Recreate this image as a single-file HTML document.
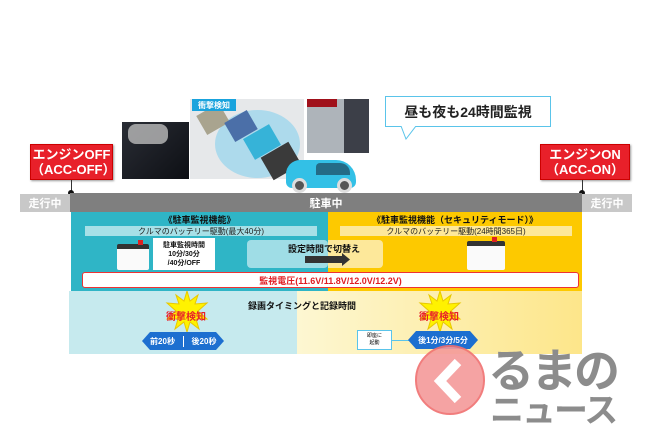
<!DOCTYPE html>
<html><head><meta charset="utf-8"><style>
*{margin:0;padding:0;box-sizing:border-box}
body{width:650px;height:433px;background:#fff;position:relative;overflow:hidden;font-family:"Liberation Sans","Noto Sans CJK JP",sans-serif}
.a{position:absolute}
.c{display:flex;align-items:center;justify-content:center;text-align:center}
.red{background:#e8202a;color:#fff;font-weight:bold;font-size:13px;line-height:15px;border:1px solid #c00;box-shadow:1px 1px 2px #999}
.hexb{background:#1d6fd0;color:#fff;font-size:8px;font-weight:bold;height:18px;clip-path:polygon(8px 0,calc(100% - 8px) 0,100% 50%,calc(100% - 8px) 100%,8px 100%,0 50%)}
</style></head><body>
<div class="a" style="left:122px;top:122px;width:67px;height:57px;background:linear-gradient(135deg,#2a2d35,#0d0f14);"></div>
<div class="a" style="left:128px;top:124px;width:40px;height:20px;border-radius:8px;background:#bbb;opacity:.8"></div>
<div class="a" style="left:190px;top:99px;width:114px;height:80px;background:#e6e8ea"></div>
<div class="a" style="left:215px;top:110px;width:85px;height:68px;border-radius:50%;background:#9fd6ec;opacity:.8"></div>
<div class="a" style="left:200px;top:108px;width:26px;height:22px;background:#a9a48f;transform:rotate(-30deg)"></div>
<div class="a" style="left:228px;top:115px;width:26px;height:22px;background:#4b6fa8;transform:rotate(-30deg)"></div>
<div class="a" style="left:247px;top:130px;width:30px;height:24px;background:#36b3d8;transform:rotate(-30deg)"></div>
<div class="a" style="left:265px;top:148px;width:32px;height:26px;background:#3a3a3a;transform:rotate(-30deg)"></div>
<div class="a c" style="left:192px;top:99px;width:44px;height:12px;background:#19a3dd;color:#fff;font-size:8px;font-weight:bold">衝撃検知</div>
<div class="a" style="left:307px;top:99px;width:62px;height:54px;background:linear-gradient(90deg,#aeb4ba 60%,#3c3f48 60%)"></div>
<div class="a" style="left:307px;top:99px;width:30px;height:8px;background:#a0101a"></div>
<div class="a" style="left:286px;top:160px;width:70px;height:28px;background:#33c0e6;border-radius:14px 20px 6px 6px"></div>
<div class="a" style="left:316px;top:163px;width:34px;height:12px;background:#246b86;border-radius:4px 10px 0 0"></div>
<div class="a" style="left:292px;top:178px;width:15px;height:15px;border-radius:50%;background:#555;border:3px solid #ddd"></div>
<div class="a" style="left:337px;top:178px;width:15px;height:15px;border-radius:50%;background:#555;border:3px solid #ddd"></div>
<div class="a c" style="left:385px;top:96px;width:166px;height:31px;border:1px solid #5ac4ea;background:#fff;font-size:14px;font-weight:bold;color:#222">昼も夜も24時間監視</div>
<svg class="a" style="left:400px;top:126px" width="20" height="14"><path d="M1 0 L6 13 L16 0" fill="#fff" stroke="#5ac4ea"/></svg>
<div class="a c red" style="left:30px;top:144px;width:83px;height:36px">エンジンOFF<br>（ACC-OFF）</div>
<div class="a c red" style="left:540px;top:144px;width:90px;height:36px">エンジンON<br>（ACC-ON）</div>
<div class="a" style="left:71px;top:180px;width:1px;height:14px;background:#333"></div>
<div class="a" style="left:582px;top:180px;width:1px;height:14px;background:#333"></div>
<div class="a" style="left:68px;top:190px;width:6px;height:6px;border-radius:50%;background:#111"></div>
<div class="a" style="left:579px;top:190px;width:6px;height:6px;border-radius:50%;background:#111"></div>
<div class="a c" style="left:20px;top:194px;width:50px;height:18px;background:#c8c8c8;color:#fff;font-size:11px;font-weight:bold">走行中</div>
<div class="a c" style="left:70px;top:193px;width:512px;height:19px;background:#7f7f7f;color:#fff;font-size:11px;font-weight:bold">駐車中</div>
<div class="a c" style="left:582px;top:194px;width:50px;height:18px;background:#c8c8c8;color:#fff;font-size:11px;font-weight:bold">走行中</div>
<div class="a" style="left:71px;top:212px;width:257px;height:79px;background:#2fb5c6"></div>
<div class="a" style="left:328px;top:212px;width:254px;height:79px;background:#fdc900"></div>
<div class="a c" style="left:71px;top:214px;width:257px;height:11px;font-size:9px;font-weight:bold;color:#111">《駐車監視機能》</div>
<div class="a c" style="left:328px;top:214px;width:254px;height:11px;font-size:9px;font-weight:bold;color:#111">《駐車監視機能（セキュリティモード）》</div>
<div class="a c" style="left:85px;top:226px;width:232px;height:10px;background:#a7e0e7;font-size:8px;color:#222">クルマのバッテリー駆動(最大40分)</div>
<div class="a c" style="left:340px;top:226px;width:232px;height:10px;background:#fde89a;font-size:8px;color:#222">クルマのバッテリー駆動(24時間365日)</div>
<div class="a" style="left:247px;top:240px;width:81px;height:28px;background:#9fdde6;border-radius:4px"></div>
<div class="a" style="left:328px;top:240px;width:55px;height:28px;background:#fde89a;border-radius:0 4px 4px 0"></div>
<div class="a" style="left:288px;top:242px;font-size:9px;font-weight:bold;color:#111">設定時間で切替え</div>
<div class="a" style="left:305px;top:256px;width:38px;height:7px;background:#333"></div>
<svg class="a" style="left:342px;top:253px" width="8" height="13"><path d="M0 0 L8 6.5 L0 13Z" fill="#333"/></svg>
<div class="a" style="left:117px;top:244px;width:32px;height:26px;background:#fafafa;border-top:5px solid #333;border-radius:2px"></div>
<div class="a" style="left:138px;top:240px;width:5px;height:5px;background:#d22"></div>
<div class="a" style="left:467px;top:241px;width:38px;height:29px;background:#fafafa;border-top:5px solid #333;border-radius:2px"></div>
<div class="a" style="left:492px;top:237px;width:5px;height:5px;background:#d22"></div>
<div class="a c" style="left:153px;top:238px;width:62px;height:32px;background:#fff;font-size:7px;line-height:9px;color:#111;font-weight:bold">駐車監視時間<br>10分/30分<br>/40分/OFF</div>
<div class="a c" style="left:82px;top:272px;width:497px;height:16px;background:#fff;border:1px solid #e33;border-radius:3px;color:#e01c22;font-size:9px;font-weight:bold">監視電圧(11.6V/11.8V/12.0V/12.2V)</div>
<div class="a" style="left:69px;top:291px;width:228px;height:63px;background:#c6eaee"></div>
<div class="a" style="left:297px;top:291px;width:285px;height:63px;background:linear-gradient(90deg,#fdf7d2,#fde68a)"></div>
<div class="a" style="left:248px;top:299px;font-size:9px;font-weight:bold;color:#111">録画タイミングと記録時間</div>
<svg class="a" style="left:165px;top:291px" width="44" height="42"><polygon points="22,0 25,10 33,4 30,13 42,12 33,20 42,28 31,28 34,38 25,31 22,41 19,31 10,38 13,28 2,28 11,20 2,12 14,13 11,4 19,10" fill="#fff200" stroke="#e8c800"/></svg>
<svg class="a" style="left:418px;top:291px" width="44" height="42"><polygon points="22,0 25,10 33,4 30,13 42,12 33,20 42,28 31,28 34,38 25,31 22,41 19,31 10,38 13,28 2,28 11,20 2,12 14,13 11,4 19,10" fill="#fff200" stroke="#e8c800"/></svg>
<div class="a" style="left:166px;top:308px;font-size:10px;font-weight:bold;color:#e8202a">衝撃検知</div>
<div class="a" style="left:419px;top:308px;font-size:10px;font-weight:bold;color:#e8202a">衝撃検知</div>
<div class="a c hexb" style="left:142px;top:332px;width:82px"><span style="width:41px">前20秒</span><span style="width:41px;border-left:1px solid #fff">後20秒</span></div>
<div class="a c" style="left:357px;top:330px;width:35px;height:20px;border:1px solid #5ac4ea;background:#fff;font-size:5px;line-height:7px">即座に<br>起動</div>
<div class="a" style="left:392px;top:340px;width:25px;height:1px;background:#5ac4ea"></div>
<div class="a c hexb" style="left:408px;top:331px;width:70px">後1分/3分/5分</div>
<div class="a" style="left:415px;top:345px;width:70px;height:70px;border-radius:50%;background:#f59a9a;border:2px solid #f07070;opacity:.9"></div>
<svg class="a" style="left:430px;top:358px" width="40" height="46"><path d="M28 4 L10 23 L28 42" fill="none" stroke="#fff" stroke-width="9"/></svg>
<div class="a" style="left:488px;top:346px;font-size:46px;line-height:50px;font-weight:bold;color:#8c8c8c;letter-spacing:-3px">るまの</div>
<div class="a" style="left:490px;top:393px;font-size:34px;line-height:36px;font-weight:bold;color:#8c8c8c;letter-spacing:-2px">ニュース</div>
</body></html>
